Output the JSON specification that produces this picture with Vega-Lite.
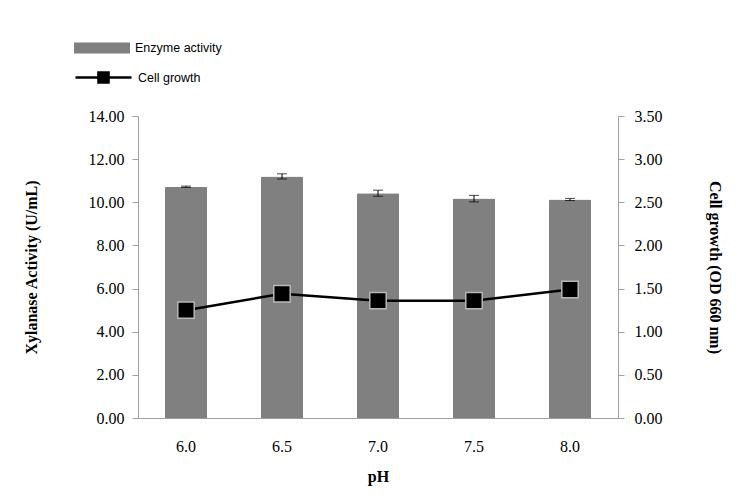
{
  "$schema": "https://vega.github.io/schema/vega-lite/v6.json",
  "width": 480,
  "height": 302,
  "autosize": "none",
  "padding": {"left": 138, "top": 116, "right": 135, "bottom": 86},
  "background": "white",
  "config": {
    "view": {"stroke": null},
    "font": "Liberation Serif",
    "axis": {
      "grid": false,
      "domainColor": "#a0a0a0",
      "tickColor": "#a0a0a0",
      "labelColor": "black",
      "titleColor": "black",
      "labelFont": "Liberation Serif",
      "titleFont": "Liberation Serif",
      "labelFontSize": 16,
      "titleFontSize": 16,
      "titleFontWeight": "bold"
    }
  },
  "data": {
    "values": [
      {"pH": "6.0", "activity": 10.72, "lo": 10.69, "hi": 10.75, "growth": 1.25},
      {"pH": "6.5", "activity": 11.2, "lo": 11.08, "hi": 11.32, "growth": 1.44},
      {"pH": "7.0", "activity": 10.42, "lo": 10.28, "hi": 10.56, "growth": 1.36},
      {"pH": "7.5", "activity": 10.17, "lo": 10.02, "hi": 10.32, "growth": 1.36},
      {"pH": "8.0", "activity": 10.13, "lo": 10.08, "hi": 10.18, "growth": 1.49}
    ]
  },
  "encoding": {
    "x": {
      "field": "pH",
      "type": "ordinal",
      "scale": {"paddingInner": 0, "paddingOuter": 0},
      "axis": {"title": "pH", "labelAngle": 0, "ticks": false, "labelPadding": 20, "titlePadding": 14}
    }
  },
  "layer": [
    {
      "layer": [
        {
          "mark": {"type": "bar", "width": {"band": 0.44}, "cornerRadiusTopLeft": 1.5, "cornerRadiusTopRight": 1.5},
          "encoding": {
            "y": {
              "field": "activity",
              "type": "quantitative",
              "scale": {"domain": [0, 14], "nice": false},
              "axis": {
                "title": "Xylanase Activity (U/mL)",
                "values": [0, 2, 4, 6, 8, 10, 12, 14],
                "format": ".2f",
                "tickSize": 6,
                "labelPadding": 8,
                "titlePadding": 49
              }
            },
            "fill": {
              "datum": "Enzyme activity",
              "scale": {"range": ["#808080"]},
              "legend": {
                "title": null,
                "orient": "none",
                "legendX": -64,
                "legendY": -96,
                "symbolType": "M-1,-0.2H1V0.2H-1Z",
                "symbolSize": 3136,
                "symbolStrokeWidth": 0,
                "labelFont": "Liberation Sans",
                "labelFontSize": 12.5,
                "labelColor": "black",
                "labelOffset": 5
              }
            }
          }
        },
        {
          "mark": {"type": "rule", "color": "black", "strokeWidth": 1},
          "encoding": {
            "y": {"field": "lo", "type": "quantitative"},
            "y2": {"field": "hi"}
          }
        },
        {
          "mark": {"type": "tick", "color": "black", "size": 10, "thickness": 1},
          "encoding": {"y": {"field": "lo", "type": "quantitative"}}
        },
        {
          "mark": {"type": "tick", "color": "black", "size": 10, "thickness": 1},
          "encoding": {"y": {"field": "hi", "type": "quantitative"}}
        }
      ]
    },
    {
      "layer": [
        {
          "mark": {"type": "line", "strokeWidth": 2.5},
          "encoding": {
            "y": {
              "field": "growth",
              "type": "quantitative",
              "scale": {"domain": [0, 3.5], "nice": false},
              "axis": {
                "orient": "right",
                "title": "Cell growth (OD 660 nm)",
                "values": [0, 0.5, 1, 1.5, 2, 2.5, 3, 3.5],
                "format": ".2f",
                "tickSize": 6,
                "labelPadding": 10,
                "titlePadding": 44
              }
            },
            "stroke": {
              "datum": "Cell growth",
              "scale": {"range": ["black"]},
              "legend": {
                "title": null,
                "orient": "none",
                "legendX": -64,
                "legendY": -68,
                "symbolType": "M-1,0H1M-0.18,-0.18H0.18V0.18H-0.18Z",
                "symbolSize": 3136,
                "symbolStrokeWidth": 2.5,
                "symbolFillColor": "black",
                "labelFont": "Liberation Sans",
                "labelFontSize": 12.5,
                "labelColor": "black",
                "labelOffset": 5
              }
            }
          }
        },
        {
          "mark": {"type": "point", "shape": "square", "filled": true, "fill": "black", "stroke": "#b8b8b8", "strokeWidth": 1.5, "size": 270, "opacity": 1},
          "encoding": {"y": {"field": "growth", "type": "quantitative"}}
        }
      ]
    }
  ],
  "resolve": {"scale": {"y": "independent", "fill": "independent", "stroke": "independent"}}
}
